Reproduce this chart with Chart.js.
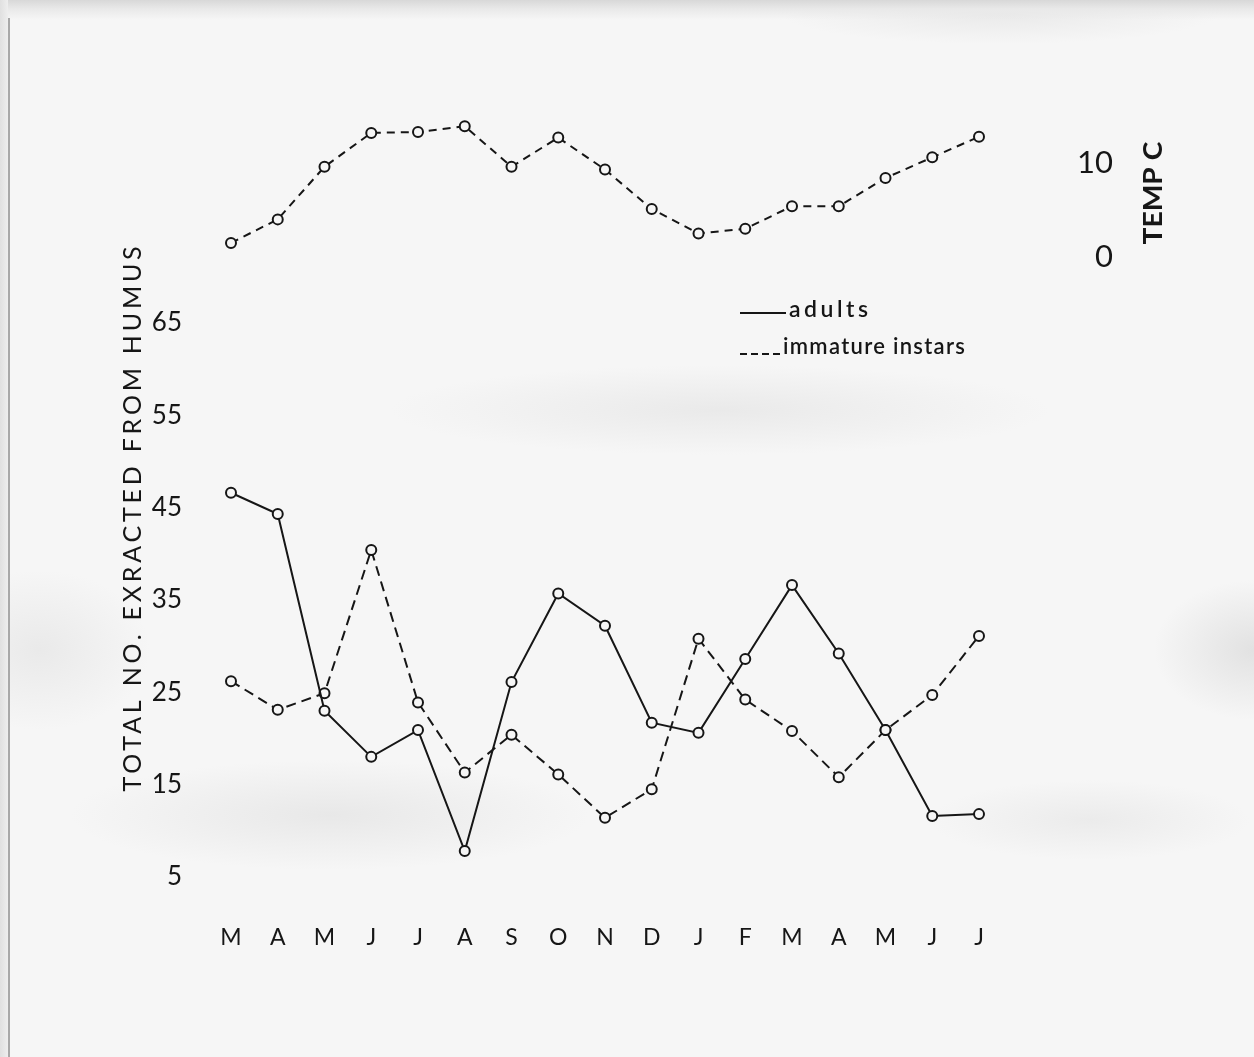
<!DOCTYPE html>
<html>
<head>
<meta charset="utf-8">
<script src="https://cdn.jsdelivr.net/npm/chart.js@4/dist/chart.umd.min.js"></script>
<style>
  html, body { margin: 0; padding: 0; }
  body { width: 1254px; height: 1057px; overflow: hidden; position: relative; background: #f6f6f6; }
  #paper {
    position: absolute; inset: 0;
    background:
      linear-gradient(to bottom, #d8d8d8 0px, #e9e9e9 9px, rgba(246,246,246,0) 20px),
      radial-gradient(ellipse 330px 45px at 720px 410px, rgba(205,205,205,0.3), rgba(205,205,205,0) 100%),
      radial-gradient(ellipse 260px 55px at 330px 815px, rgba(200,200,200,0.3), rgba(200,200,200,0) 100%),
      radial-gradient(ellipse 110px 80px at 40px 650px, rgba(205,205,205,0.3), rgba(205,205,205,0) 100%),
      radial-gradient(ellipse 100px 70px at 1254px 650px, rgba(195,195,195,0.4), rgba(195,195,195,0) 100%),
      radial-gradient(ellipse 160px 40px at 1090px 820px, rgba(210,210,210,0.3), rgba(210,210,210,0) 100%),
      radial-gradient(ellipse 220px 30px at 1000px 14px, rgba(205,205,205,0.3), rgba(205,205,205,0) 100%),
      #f6f6f6;
  }
  #edge { position: absolute; left: 8px; top: 18px; width: 2px; height: 1039px; background: #a8a8a8; }
  #margin { position: absolute; left: 0; top: 0; width: 8px; height: 1057px; background: linear-gradient(to right, #e0e0e0, #eeeeee); }
  canvas { position: absolute; left: 0; top: 0; }
</style>
</head>
<body>
<div id="paper"></div>
<div id="margin"></div>
<div id="edge"></div>
<canvas id="chart" width="1254" height="1057"></canvas>
<script>
// Monthly samples, March through the following July
const months = ['M', 'A', 'M', 'J', 'J', 'A', 'S', 'O', 'N', 'D', 'J', 'F', 'M', 'A', 'M', 'J', 'J'];

// Total number extracted from humus
const adults   = [46.6, 44.3, 23.0, 18.0, 20.9, 7.8, 26.1, 35.7, 32.2, 21.7, 20.6, 28.6, 36.6, 29.2, 20.9, 11.6, 11.8];
const immature = [26.2, 23.1, 24.9, 40.4, 23.9, 16.3, 20.4, 16.1, 11.4, 14.5, 30.8, 24.2, 20.8, 15.8, 20.9, 24.7, 31.1];

// Temperature, degrees C
const temperature = [1.5, 4.0, 9.6, 13.2, 13.3, 13.9, 9.6, 12.7, 9.3, 5.1, 2.5, 3.0, 5.4, 5.4, 8.4, 10.6, 12.8];

// Tick labels
const countTicks = [5, 15, 25, 35, 45, 55, 65];
const tempTicks = [0, 10];

const yTitle = 'TOTAL NO. EXRACTED FROM HUMUS';
const tempTitle = 'TEMP C';
const legendItems = ['adults', 'immature instars'];

const INK = '#161616';
const PAPER = '#f6f6f6';
const FONT = 'Lato, "Open Sans", "DejaVu Sans", sans-serif';

// Draw a line of text stretched (by letter spacing) or squeezed to a given length
function fittedText(ctx, text, x, y, angle, font, length, opts = {}) {
  ctx.save();
  ctx.translate(x, y);
  ctx.rotate(angle);
  ctx.font = font;
  ctx.textAlign = opts.align || 'center';
  ctx.textBaseline = opts.baseline || 'middle';
  const w = ctx.measureText(text).width;
  if (opts.squeeze) {
    ctx.scale(length / w, 1);
  } else if ('letterSpacing' in ctx && text.length > 1) {
    ctx.letterSpacing = ((length - w) / (text.length - 1)).toFixed(2) + 'px';
  }
  ctx.fillText(text, 0, 0);
  ctx.restore();
}

// Axis titles and the key
const annotations = {
  id: 'annotations',
  afterDraw(chart) {
    const ctx = chart.ctx;
    ctx.save();
    ctx.fillStyle = INK;
    ctx.strokeStyle = INK;

    fittedText(ctx, yTitle, 133, 517, -Math.PI / 2, '25px ' + FONT, 545);

    const t = chart.scales.temp;
    fittedText(ctx, tempTitle, 1153, t.getPixelForValue(6.8), -Math.PI / 2, 'bold 27px ' + FONT, 103, { squeeze: true });

    ctx.lineWidth = 2;
    ctx.beginPath();
    ctx.moveTo(740, 313); ctx.lineTo(786, 313);
    ctx.stroke();
    fittedText(ctx, legendItems[0], 789, 317, 0, '600 23px ' + FONT, 79, { align: 'left', baseline: 'alphabetic' });

    ctx.setLineDash([7, 4]);
    ctx.beginPath();
    ctx.moveTo(740, 354); ctx.lineTo(780, 354);
    ctx.stroke();
    ctx.setLineDash([]);
    fittedText(ctx, legendItems[1], 783, 354, 0, '600 22px ' + FONT, 182, { align: 'left', baseline: 'alphabetic' });

    ctx.restore();
  }
};

// keep the plot area exactly where the layout padding puts it
function noEdgePadding(s) {
  s.paddingTop = 0; s.paddingBottom = 0; s.paddingLeft = 0; s.paddingRight = 0;
}

const pointStyle = {
  pointRadius: 5,
  pointHoverRadius: 5,
  pointBorderWidth: 2,
  pointBorderColor: INK,
  pointBackgroundColor: PAPER,
  borderColor: INK,
  tension: 0,
  fill: false
};

new Chart(document.getElementById('chart'), {
  type: 'line',
  data: {
    labels: months,
    datasets: [
      { label: legendItems[0], data: adults, yAxisID: 'y', borderWidth: 2, ...pointStyle },
      { label: legendItems[1], data: immature, yAxisID: 'y', borderWidth: 2, borderDash: [10, 6], ...pointStyle },
      { label: 'temperature', data: temperature, yAxisID: 'temp', borderWidth: 2, borderDash: [8, 6], ...pointStyle }
    ]
  },
  options: {
    responsive: false,
    devicePixelRatio: 1,
    animation: false,
    events: [],
    layout: { padding: { left: 114, right: 141, top: 92, bottom: 97 } },
    plugins: { legend: { display: false }, tooltip: { enabled: false }, title: { display: false } },
    scales: {
      x: {
        type: 'category',
        offset: false,
        grid: { display: false, drawTicks: false },
        border: { display: false },
        ticks: { color: INK, font: { family: FONT, size: 23 }, padding: 24, maxRotation: 0, autoSkip: false },
        afterFit(s) { s.height = 60; noEdgePadding(s); }
      },
      y: {
        position: 'left',
        min: 2.5,
        max: 90,
        grid: { display: false, drawTicks: false },
        border: { display: false },
        ticks: { color: INK, font: { family: FONT, size: 26 }, padding: 49 },
        afterBuildTicks(s) { s.ticks = countTicks.map(v => ({ value: v })); },
        afterFit(s) { s.width = 117; noEdgePadding(s); }
      },
      temp: {
        position: 'right',
        min: -68.4,
        max: 17.55,
        grid: { display: false, drawTicks: false },
        border: { display: false },
        ticks: { color: INK, font: { family: FONT, size: 31 }, padding: 20, crossAlign: 'far' },
        afterBuildTicks(s) { s.ticks = tempTicks.map(v => ({ value: v })); },
        afterFit(s) { s.width = 134; noEdgePadding(s); }
      }
    }
  },
  plugins: [annotations]
});
</script>
</body>
</html>
